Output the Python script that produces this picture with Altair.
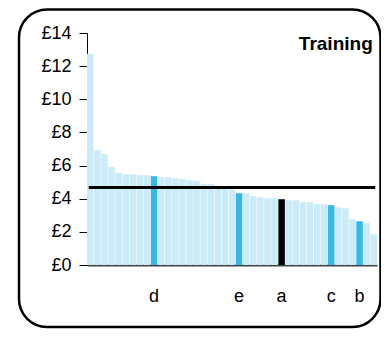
import json
import altair as alt
import pandas as pd

# Bar values (sorted, £)
values = [12.75, 6.94, 6.70, 5.93, 5.55, 5.48, 5.48, 5.42, 5.42, 5.36,
          5.30, 5.30, 5.24, 5.18, 5.12, 5.06, 4.88, 4.88, 4.68, 4.62,
          4.55, 4.33, 4.33, 4.15, 4.09, 4.03, 4.03, 3.97, 3.91, 3.91,
          3.79, 3.79, 3.67, 3.67, 3.61, 3.48, 3.42, 2.76, 2.64, 2.52, 1.85]
# Labelled bars
label_pos = [9, 21, 27, 34, 38]
label_txt = ["d", "e", "a", "c", "b"]
label_grp = ["hi", "hi", "focus", "hi", "hi"]
average = 4.67
y_ticks = [0, 2, 4, 6, 8, 10, 12, 14]
title_text = "Training"

n = len(values)
labels = [""] * n
groups = ["base"] * n
for p, t, g in zip(label_pos, label_txt, label_grp):
    labels[p] = t
    groups[p] = g

df = pd.DataFrame({"idx": list(range(n)), "value": values,
                   "label": labels, "grp": groups,
                   "avg": [average] * n})

FONT = "Liberation Sans"
W, H = 290, 232

y_scale = alt.Scale(domain=[0, 14], nice=False)
y_axis = alt.Axis(title=None, values=y_ticks, grid=False,
                  labelExpr="'£' + datum.value", labelOverlap=False,
                  labelFontSize=18, labelFont=FONT, labelColor="black",
                  tickSize=8, tickColor="black", tickWidth=1,
                  domainColor="black", domainWidth=1, labelPadding=8)

x_scale = alt.Scale(paddingInner=0.08, paddingOuter=0)
x_axis = alt.Axis(title=None, ticks=False, labelAngle=0,
                  labelExpr=json.dumps(labels).replace('"', "'") + "[datum.value]",
                  labelFontSize=18, labelFont=FONT, labelColor="black",
                  labelPadding=22, domainColor="#444", domainWidth=2)

bars = alt.Chart(df).mark_bar().encode(
    x=alt.X("idx:O", scale=x_scale, axis=x_axis),
    y=alt.Y("value:Q", scale=y_scale, axis=y_axis),
    color=alt.Color("grp:N", legend=None,
                    scale=alt.Scale(domain=["base", "hi", "focus"],
                                    range=["#CCEBF8", "#36B9E9", "#000000"])),
)

avg_line = alt.Chart(df).mark_line(color="black", strokeWidth=3, strokeCap="square").encode(
    x=alt.X("idx:O", scale=x_scale, axis=x_axis),
    y=alt.Y("avg:Q", scale=y_scale, axis=y_axis),
)

frame = alt.Chart(alt.Data(values=[{}])).mark_rect(
    fill=None, stroke="black", strokeWidth=2.5, cornerRadius=28
).encode(
    x=alt.value(-68), x2=alt.value(293.5), y=alt.value(-23.5), y2=alt.value(294)
)

chart = alt.layer(bars, avg_line, frame).properties(
    width=W, height=H,
    title=alt.TitleParams(title_text, anchor="end", orient="top", font=FONT,
                          fontSize=19, fontWeight="bold", color="black",
                          dx=-9, dy=50),
    autosize=alt.AutoSizeParams(type="none"),
    padding={"left": 79, "top": 25, "right": 4, "bottom": 64},
).configure_view(stroke=None)

chart.save("out.html", embed_options={"renderer": "svg", "actions": False})
